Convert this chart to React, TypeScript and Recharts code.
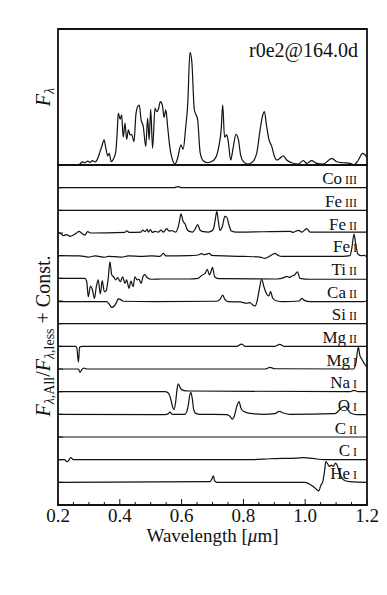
import React from "react";
import {
  LineChart,
  Line,
  XAxis,
  YAxis,
  ReferenceArea,
  ReferenceLine,
} from "recharts";

// wavelength axis
const xTicks = [
  0.2, 0.25, 0.3, 0.35, 0.4, 0.45, 0.5, 0.55, 0.6, 0.65, 0.7, 0.75, 0.8, 0.85,
  0.9, 0.95, 1.0, 1.05, 1.1, 1.15, 1.2,
];
const xLabels = ["0.2", "0.4", "0.6", "0.8", "1.0", "1.2"];
const offsetTicks = [1, 2, 3, 4, 5, 6, 7, 8, 9, 10, 11, 12, 13, 14];

// top panel: total spectrum [wavelength, F_lambda]
const totalFlux: [number, number][] = [
  [0.2, 0], [0.255, 0], [0.271, 0.009], [0.279, 0.027], [0.287, 0.02], [0.296, 0.035],
  [0.304, 0.024], [0.311, 0.038], [0.32, 0.027], [0.325, 0.038], [0.33, 0.068],
  [0.336, 0.118], [0.341, 0.156], [0.349, 0.221], [0.355, 0.147], [0.361, 0.08],
  [0.366, 0.103], [0.372, 0.029], [0.379, 0.05], [0.387, 0.118], [0.392, 0.31],
  [0.395, 0.457], [0.401, 0.404], [0.406, 0.442], [0.411, 0.245], [0.417, 0.369],
  [0.422, 0.227], [0.428, 0.31], [0.433, 0.265], [0.438, 0.271], [0.446, 0.206],
  [0.452, 0.442], [0.458, 0.516], [0.463, 0.528], [0.469, 0.398], [0.476, 0.339],
  [0.484, 0.162], [0.49, 0.413], [0.495, 0.221], [0.5, 0.492], [0.506, 0.147],
  [0.514, 0.501], [0.519, 0.471], [0.525, 0.492], [0.531, 0.56], [0.538, 0.525],
  [0.543, 0.421], [0.549, 0.486], [0.555, 0.333], [0.562, 0.156], [0.57, 0.05],
  [0.579, 0.009], [0.587, 0.059], [0.598, 0.177], [0.605, 0.139], [0.613, 0.324],
  [0.62, 0.545], [0.627, 0.993], [0.633, 0.914], [0.641, 0.492], [0.652, 0.398],
  [0.66, 0.109], [0.67, 0.038], [0.686, 0.02], [0.695, 0.029], [0.705, 0.044],
  [0.714, 0.088], [0.722, 0.186], [0.728, 0.31], [0.733, 0.531], [0.739, 0.245],
  [0.746, 0.265], [0.751, 0.206], [0.759, 0.044], [0.767, 0.156], [0.776, 0.271],
  [0.784, 0.221], [0.791, 0.088], [0.8, 0.029], [0.813, 0.009], [0.827, 0.02],
  [0.843, 0.103], [0.854, 0.31], [0.862, 0.433], [0.868, 0.471], [0.875, 0.345],
  [0.883, 0.221], [0.892, 0.162], [0.899, 0.088], [0.908, 0.044], [0.918, 0.059],
  [0.929, 0.08], [0.94, 0.044], [0.956, 0.02], [0.978, 0.009], [0.994, 0.038],
  [1.005, 0.015], [1.021, 0.038], [1.037, 0.015], [1.059, 0.009], [1.086, 0.059],
  [1.102, 0.029], [1.123, 0.02], [1.145, 0.015], [1.158, 0.002], [1.172, 0.044],
  [1.186, 0.103], [1.2, 0.068],
];

// bottom panel: ratio minus one, per ion [wavelength, deviation]
const coIII: [number, number][] = [[0.2, 0], [0.575, 0], [0.589, 0.05], [0.6, 0], [1.2, 0]];
const feIII: [number, number][] = [[0.2, 0], [1.2, 0]];
const feII: [number, number][] = [
  [0.2, 0.03], [0.21, -0.04], [0.217, -0.12], [0.228, -0.07], [0.239, -0.15], [0.25, -0.09],
  [0.26, 0], [0.268, 0.07], [0.277, -0.01], [0.287, -0.09], [0.296, 0.06], [0.305, 0],
  [0.417, 0.03], [0.422, 0.1], [0.43, 0.03], [0.469, 0.04], [0.474, 0.13], [0.482, 0.06],
  [0.488, 0.16], [0.493, 0.04], [0.499, 0.15], [0.505, 0.03], [0.514, 0.07], [0.525, 0.04],
  [0.533, 0.13], [0.541, 0.04], [0.552, 0.19], [0.559, 0.09], [0.57, 0.1], [0.581, 0.04],
  [0.587, 0.18], [0.593, 0.51], [0.598, 0.84], [0.605, 0.51], [0.611, 0.41], [0.618, 0.15],
  [0.627, 0.06], [0.636, 0.04], [0.644, 0.18], [0.652, 0.37], [0.66, 0.12], [0.67, 0.06],
  [0.686, 0.04], [0.695, 0.07], [0.703, 0.18], [0.708, 0.51], [0.714, 0.95], [0.719, 0.51],
  [0.724, 0.12], [0.732, 0.29], [0.74, 0.73], [0.746, 0.7], [0.753, 0.37], [0.761, 0.09],
  [0.778, 0.04], [0.951, 0.07], [0.961, 0.03], [0.978, 0.12], [0.989, 0.04], [1.005, 0.19],
  [1.016, 0.04], [1.2, 0.04],
];
const feI: [number, number][] = [
  [0.2, 0], [0.271, -0.01], [0.298, -0.06], [0.32, -0.01], [0.352, -0.07], [0.363, -0.03],
  [0.384, -0.04], [0.406, -0.06], [0.428, -0.01], [0.471, -0.03], [0.503, -0.01], [0.53, -0.03],
  [0.541, 0.1], [0.549, -0.01], [0.622, 0], [0.654, 0.03], [0.665, 0.09], [0.673, 0.04],
  [0.681, 0.07], [0.69, 0.1], [0.697, 0.01], [0.8, -0.03], [0.854, -0.06], [0.87, -0.12],
  [0.884, -0.03], [0.895, 0.06], [0.902, 0.1], [0.913, 0.01], [0.924, -0.03], [1.016, -0.03],
  [1.123, -0.03], [1.145, 0], [1.151, 0.34], [1.158, 0.95], [1.163, 0.56], [1.17, 0.09],
  [1.18, 0], [1.19, 0.01], [1.2, -0.06],
];
const tiII: [number, number][] = [
  [0.2, 0], [0.287, 0], [0.293, -0.15], [0.298, -0.81], [0.305, -0.34], [0.311, -0.48],
  [0.318, -0.88], [0.324, -0.37], [0.33, -0.07], [0.337, -0.69], [0.343, -0.1], [0.35, -0.59],
  [0.356, -0.54], [0.363, 0.07], [0.368, 0.73], [0.374, 0.15], [0.38, 0.07], [0.387, -0.07],
  [0.393, 0.03], [0.402, -0.15], [0.409, 0.07], [0.417, -0.22], [0.422, -0.07], [0.43, -0.44],
  [0.436, -0.12], [0.443, -0.37], [0.449, 0.07], [0.456, -0.07], [0.462, -0.04], [0.469, -0.22],
  [0.475, 0.07], [0.481, 0.16], [0.488, 0.04], [0.503, -0.04], [0.536, -0.03], [0.622, -0.03],
  [0.654, 0], [0.665, 0.13], [0.676, 0.22], [0.683, 0.4], [0.69, 0.15], [0.695, 0.29],
  [0.7, 0.49], [0.707, 0.07], [0.719, -0.01], [0.908, -0.03], [0.931, 0.03], [0.94, 0.09],
  [0.948, 0.04], [0.957, 0.1], [0.966, 0.15], [0.975, 0.29], [0.983, 0], [1.016, -0.04],
  [1.2, -0.04],
];
const caII: [number, number][] = [
  [0.2, -0.03], [0.358, -0.03], [0.365, -0.13], [0.374, -0.28], [0.382, -0.22], [0.389, -0.07],
  [0.395, 0.09], [0.402, 0.07], [0.411, -0.01], [0.514, -0.03], [0.714, -0.01], [0.724, 0.07],
  [0.733, 0.26], [0.74, 0.07], [0.751, -0.03], [0.789, -0.04], [0.811, -0.1], [0.821, -0.07],
  [0.83, -0.18], [0.838, -0.22], [0.845, 0.04], [0.852, 0.56], [0.859, 0.95], [0.867, 0.6],
  [0.875, 0.31], [0.882, 0.22], [0.888, 0.41], [0.895, 0.12], [0.906, 0.01], [0.929, -0.03],
  [0.981, 0], [0.989, 0.12], [0.996, 0.04], [1.016, -0.03], [1.188, -0.03], [1.2, 0.01],
];
const siII: [number, number][] = [[0.2, 0], [1.2, 0]];
const mgII: [number, number][] = [
  [0.2, 0], [0.257, 0], [0.261, -0.07], [0.266, -0.7], [0.27, -0.04], [0.277, 0], [0.778, 0],
  [0.794, 0.1], [0.805, 0], [0.902, 0], [0.918, 0.09], [0.931, 0], [1.2, 0],
];
const mgI: [number, number][] = [
  [0.2, 0], [0.266, 0], [0.271, -0.15], [0.277, -0.03], [0.284, 0.04], [0.293, 0], [0.87, 0],
  [0.886, 0.07], [0.902, 0.01], [1.156, 0], [1.164, 0.26], [1.172, 0.97], [1.177, 0.59],
  [1.183, 0.44], [1.19, 0.26], [1.2, 0.09],
];
const naI: [number, number][] = [
  [0.2, 0], [0.546, 0], [0.557, -0.06], [0.563, -0.23], [0.57, -0.62], [0.575, -0.79],
  [0.581, -0.43], [0.585, 0.09], [0.589, 0.35], [0.596, 0.16], [0.605, 0.06], [0.622, 0.03],
  [1.145, 0], [1.158, 0.06], [1.172, 0], [1.2, 0],
];
const oI: [number, number][] = [
  [0.2, 0], [0.546, -0.01], [0.557, 0.03], [0.562, 0.1], [0.57, 0], [0.611, 0], [0.617, 0.13],
  [0.622, 0.43], [0.626, 0.82], [0.63, 0.97], [0.635, 0.65], [0.639, 0.21], [0.646, 0.04],
  [0.66, 0], [0.746, -0.01], [0.757, -0.09], [0.764, -0.21], [0.771, -0.06], [0.778, 0.32],
  [0.786, 0.56], [0.792, 0.28], [0.802, 0.12], [0.821, 0.04], [0.864, 0], [0.902, 0.03],
  [0.916, 0.13], [0.929, 0.06], [0.951, 0], [1.096, 0.03], [1.11, 0.18], [1.121, 0.32],
  [1.129, 0.35], [1.138, 0.21], [1.147, 0.06], [1.167, -0.01], [1.2, -0.01],
];
const cII: [number, number][] = [[0.2, 0], [1.2, 0]];
const cI: [number, number][] = [
  [0.2, 0], [0.221, 0], [0.229, -0.09], [0.236, 0], [0.241, 0.09], [0.25, 0], [0.832, 0],
  [0.886, 0.04], [0.972, 0.07], [0.994, 0.09], [1.037, 0.03], [1.059, 0], [1.2, 0],
];
const heI: [number, number][] = [
  [0.2, 0], [0.692, 0.03], [0.698, 0.15], [0.703, 0.29], [0.707, 0.06], [0.714, 0], [0.999, 0],
  [1.013, -0.07], [1.026, -0.18], [1.037, -0.32], [1.044, -0.38], [1.05, -0.15], [1.057, 0.03],
  [1.062, 0.44], [1.067, 0.91], [1.073, 0.81], [1.078, 0.7], [1.085, 0.76], [1.091, 0.7],
  [1.098, 0.85], [1.104, 0.73], [1.11, 0.47], [1.118, 0.22], [1.129, 0.07], [1.145, 0.03],
  [1.2, 0],
];

// top to bottom, each one unit lower
const ionNames = [
  ["Co", "III"], ["Fe", "III"], ["Fe", "II"], ["Fe", "I"], ["Ti", "II"], ["Ca", "II"],
  ["Si", "II"], ["Mg", "II"], ["Mg", "I"], ["Na", "I"], ["O", "I"], ["C", "II"],
  ["C", "I"], ["He", "I"],
];
const ionSeries = [coIII, feIII, feII, feI, tiII, caII, siII, mgII, mgI, naI, oI, cII, cI, heI];

const FONT = "Liberation Serif, Times New Roman, serif";
const INK = "#111";

const ions = ionNames.map(([el, stage], i) => {
  const offset = ionNames.length - i;
  return {
    key: el + stage,
    el,
    stage,
    offset,
    data: ionSeries[i].map(([w, d]) => ({ w, y: offset + d })),
  };
});
const topData = totalFlux.map(([w, f]) => ({ w, f }));

function XTick(props: any) {
  const { x, y, payload, up, showLabel } = props;
  const v = payload?.value;
  const label = xLabels.find((l) => Math.abs(parseFloat(l) - v) < 1e-6);
  const len = label ? 6 : 3;
  return (
    <g>
      <line x1={x} x2={x} y1={y} y2={up ? y - len : y + len} stroke={INK} strokeWidth={1} />
      {showLabel && label && (
        <text x={x} y={y + 17} textAnchor="middle" fontSize={19} fontFamily={FONT} fill={INK}>
          {label}
        </text>
      )}
    </g>
  );
}

function YTick(props: any) {
  const { x, y } = props;
  return <line x1={x} x2={x + 5} y1={y} y2={y} stroke={INK} strokeWidth={1} />;
}

function IonLabel(props: any) {
  const vb = props.viewBox;
  if (!vb) return null;
  return (
    <text
      x={vb.x + vb.width - 10}
      y={vb.y - 3.5}
      textAnchor="end"
      fontFamily={FONT}
      fill={INK}
      fontSize={17}
    >
      {props.el}
      <tspan fontSize={12}>{" " + props.stage}</tspan>
    </text>
  );
}

export default function App() {
  return (
    <div
      style={{
        position: "absolute",
        left: 0,
        top: 0,
        width: 387,
        height: 595,
        background: "#fff",
        fontFamily: FONT,
      }}
    >
      {/* top panel */}
      <div style={{ position: "absolute", left: 0, top: 0 }}>
        <LineChart width={387} height={595} margin={{ top: 29, right: 20, bottom: 430, left: 58 }}>
          <XAxis dataKey="w" type="number" domain={[0.2, 1.2]} hide />
          <YAxis type="number" domain={[0, 1.2]} hide />
          <ReferenceArea x1={0.2} x2={1.2} y1={0} y2={1.2} fill="none" stroke={INK} strokeWidth={1.8} />
          <Line
            data={topData}
            dataKey="f"
            type="monotone"
            dot={false}
            stroke={INK}
            strokeWidth={1.2}
            isAnimationActive={false}
          />
        </LineChart>
      </div>

      {/* bottom panel; 1px axes so the inward ticks get drawn */}
      <div style={{ position: "absolute", left: 0, top: 0 }}>
        <LineChart width={387} height={595} margin={{ top: 164, right: 20, bottom: 89, left: 57 }}>
          <XAxis
            dataKey="w"
            type="number"
            domain={[0.2, 1.2]}
            ticks={xTicks}
            interval={0}
            height={1}
            axisLine={false}
            tickLine={false}
            tickSize={0}
            tickMargin={0}
            tick={(p: any) => <XTick {...p} up showLabel />}
          />
          <XAxis
            xAxisId="top"
            orientation="top"
            type="number"
            domain={[0.2, 1.2]}
            ticks={xTicks}
            interval={0}
            height={1}
            axisLine={false}
            tickLine={false}
            tickSize={0}
            tickMargin={0}
            tick={(p: any) => <XTick {...p} />}
          />
          <YAxis
            type="number"
            domain={[0, 15]}
            ticks={offsetTicks}
            interval={0}
            width={1}
            axisLine={false}
            tickLine={false}
            tickSize={0}
            tickMargin={0}
            tick={(p: any) => <YTick {...p} />}
          />
          <ReferenceArea x1={0.2} x2={1.2} y1={0} y2={15} fill="none" stroke={INK} strokeWidth={1.8} />
          {ions.map((ion) => (
            <ReferenceLine
              key={"lab" + ion.key}
              y={ion.offset}
              stroke="none"
              label={(p: any) => <IonLabel {...p} el={ion.el} stage={ion.stage} />}
            />
          ))}
          {ions.map((ion) => (
            <Line
              key={ion.key}
              data={ion.data}
              dataKey="y"
              type="monotone"
              dot={false}
              stroke={INK}
              strokeWidth={1.2}
              isAnimationActive={false}
            />
          ))}
        </LineChart>
      </div>

      {/* titles */}
      <svg
        width={387}
        height={595}
        style={{ position: "absolute", left: 0, top: 0, pointerEvents: "none" }}
      >
        <text x={358} y={57} textAnchor="end" fontSize={20} fontFamily={FONT} fill={INK}>
          r0e2@164.0d
        </text>
        <text
          transform="translate(50,97) rotate(-90)"
          textAnchor="middle"
          fontSize={20}
          fontFamily={FONT}
          fill={INK}
        >
          <tspan fontStyle="italic">F</tspan>
          <tspan fontSize={14} dy={4} fontStyle="italic">λ</tspan>
        </text>
        <text
          transform="translate(50,336) rotate(-90)"
          textAnchor="middle"
          fontSize={20}
          fontFamily={FONT}
          fill={INK}
        >
          <tspan fontStyle="italic">F</tspan>
          <tspan fontSize={14} dy={4}>
            <tspan fontStyle="italic">λ</tspan>,All
          </tspan>
          <tspan dy={-4}>/</tspan>
          <tspan fontStyle="italic">F</tspan>
          <tspan fontSize={14} dy={4}>
            <tspan fontStyle="italic">λ</tspan>,less
          </tspan>
          <tspan dy={-4}> + Const.</tspan>
        </text>
        <text x={212.5} y={542} textAnchor="middle" fontSize={19} fontFamily={FONT} fill={INK}>
          Wavelength [<tspan fontStyle="italic">μ</tspan>m]
        </text>
      </svg>
    </div>
  );
}
